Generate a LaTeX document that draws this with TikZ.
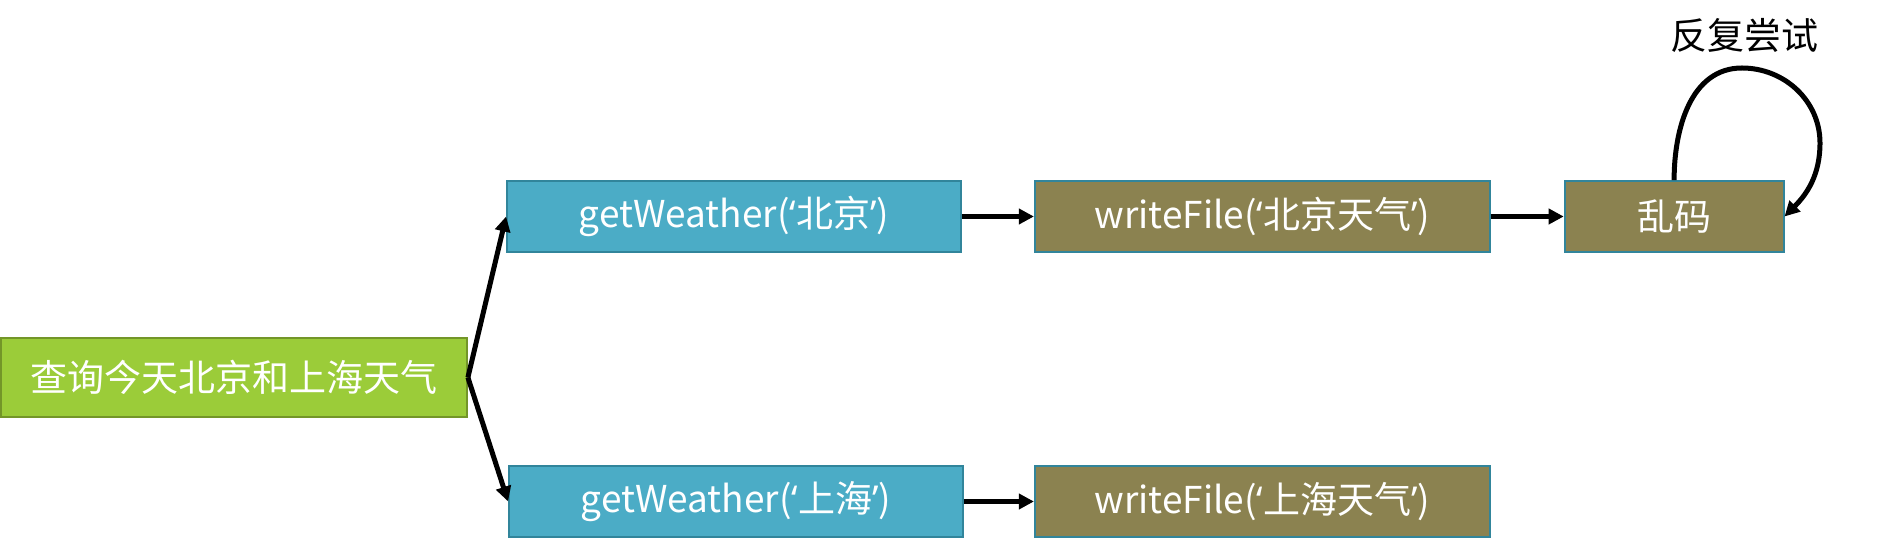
\documentclass[tikz,border=0pt]{standalone}
\usepackage{fontspec}
\setmainfont{Noto Sans CJK SC}
\newfontfamily\quotefont{Noto Sans}
\usepackage{tikz}
\usetikzlibrary{arrows.meta,positioning}
\definecolor{leafGreen}{RGB}{155,204,57}
\definecolor{leafEdge}{RGB}{115,150,40}
\definecolor{aquaBlue}{RGB}{75,172,198}
\definecolor{aquaEdge}{RGB}{49,133,155}
\definecolor{oliveBox}{RGB}{139,130,80}
\newcommand{\openq}{{\quotefont ‘}}
\newcommand{\closeq}{{\quotefont ’}}

\begin{document}
\begin{tikzpicture}[
  x=1pt, y=1pt,
  block/.style={draw=aquaEdge, line width=1.8pt, minimum height=71pt, inner sep=0pt, text=white, font=\fontsize{37}{44}\selectfont},
  query/.style={block, draw=leafEdge, fill=leafGreen, minimum width=466pt, minimum height=79pt},
  call/.style={block, fill=aquaBlue, minimum width=454pt},
  save/.style={block, fill=oliveBox, minimum width=455pt},
  arrow/.style={-{Triangle[length=15pt,width=15pt]}, line width=5pt}
]
  \useasboundingbox (0,0) rectangle (1879,548);
  \node[query] (ask) at (234,170.5) {查询今天北京和上海天气};
  \node[call] (wbj) at (734,331.5) {getWeather(\openq 北京\closeq)};
  \node[save, right=72pt of wbj] (fbj) {writeFile(\openq 北京天气\closeq)};
  \node[save, minimum width=219pt, right=73pt of fbj] (garble) {乱码};
  \node[call] (wsh) at (736,46.5) {getWeather(\openq 上海\closeq)};
  \node[save, right=70pt of wsh] (fsh) {writeFile(\openq 上海天气\closeq)};
  \node[font=\fontsize{37}{44}\selectfont] (retry) at (1744,513) {反复尝试};
  \draw[arrow] (ask.east) -- (wbj.west);
  \draw[arrow] (ask.east) -- (wsh.west);
  \draw[arrow] (wbj) -- (fbj);
  \draw[arrow] (fbj) -- (garble);
  \draw[arrow] (wsh) -- (fsh);
  % loop back onto itself
  \draw[arrow] (garble.north) to[out=90,in=180] (1742,480)
    to[out=0,in=90] (1820,405) to[out=-90,in=45] (garble.east);
\end{tikzpicture}
\end{document}
